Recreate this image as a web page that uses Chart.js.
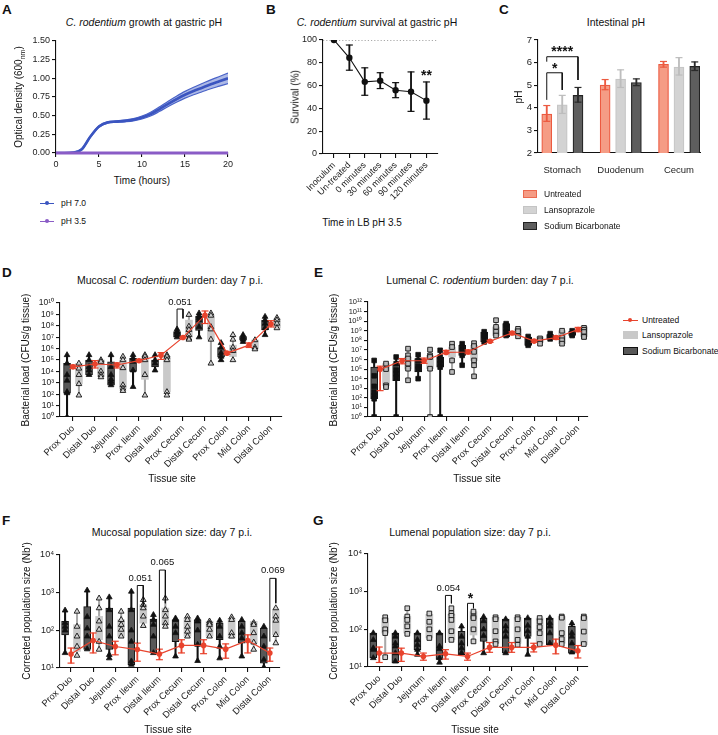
<!DOCTYPE html>
<html>
<head>
<meta charset="utf-8">
<title>C. rodentium at gastric pH</title>
<script src="https://cdn.jsdelivr.net/npm/chart.js@4.4.1/dist/chart.umd.min.js"></script>
<style>
  body { margin: 0; background: #fff; }
  #fig { position: relative; width: 718px; height: 735px; overflow: hidden; font-family: "Liberation Sans", Arial, sans-serif; color: #111; }
  #fig canvas { position: absolute; }
  .t, .yt, .tag, .leg { position: absolute; z-index: 2; white-space: nowrap; }
  .t { transform: translate(-50%, -50%); font-size: 10.5px; }
  .ax { font-size: 10px; }
  .yt { transform: translate(-50%, -50%) rotate(-90deg); font-size: 10px; }
  .tag { font-weight: bold; font-size: 13.5px; }
  .leg { font-size: 8.5px; display: flex; align-items: center; transform: translateY(-50%); }
  .sw { display: inline-block; width: 14px; height: 8px; margin-right: 7px; box-sizing: border-box; border: 1px solid; }
  .mk { position: relative; display: inline-block; width: 14px; height: 8px; margin-right: 7px; }
  .mk::before { content: ""; position: absolute; left: 0; right: 0; top: 3.5px; height: 1px; background: var(--c); }
  .mk::after { content: ""; position: absolute; left: 5px; top: 2px; width: 4px; height: 4px; border-radius: 2px; background: var(--c); }
  .e .sw, .e .mk { width: 15px; margin-right: 4px; }
  sub { font-size: 70%; }
</style>
</head>
<body>
<div id="fig">
  <div class="tag" style="left:2px;top:2px">A</div>
  <div class="tag" style="left:266px;top:2px">B</div>
  <div class="tag" style="left:499px;top:2px">C</div>
  <div class="tag" style="left:2px;top:265px">D</div>
  <div class="tag" style="left:314px;top:265px">E</div>
  <div class="tag" style="left:2px;top:513px">F</div>
  <div class="tag" style="left:313px;top:513px">G</div>

  <div class="t" style="left:144px;top:22px"><i>C. rodentium</i> growth at gastric pH</div>
  <div class="t" style="left:377px;top:22px"><i>C. rodentium</i> survival at gastric pH</div>
  <div class="t" style="left:616px;top:22px">Intestinal pH</div>
  <div class="t" style="left:170px;top:280px">Mucosal <i>C. rodentium</i> burden: day 7 p.i.</div>
  <div class="t" style="left:480px;top:280px">Lumenal <i>C. rodentium</i> burden: day 7 p.i.</div>
  <div class="t" style="left:172px;top:532px">Mucosal population size: day 7 p.i.</div>
  <div class="t" style="left:470px;top:532px">Lumenal population size: day 7 p.i.</div>

  <div class="yt" style="left:19px;top:97px">Optical density (600<sub>nm</sub>)</div>
  <div class="t ax" style="left:142px;top:180px">Time (hours)</div>
  <div class="yt" style="left:295px;top:97px">Survival (%)</div>
  <div class="t ax" style="left:362px;top:222px">Time in LB pH 3.5</div>
  <div class="yt" style="left:518px;top:97px">pH</div>
  <div class="yt" style="left:25px;top:360px">Bacterial load (CFUs/g tissue)</div>
  <div class="t ax" style="left:172px;top:478px">Tissue site</div>
  <div class="yt" style="left:333px;top:360px">Bacterial load (CFUs/g tissue)</div>
  <div class="t ax" style="left:477px;top:478px">Tissue site</div>
  <div class="yt" style="left:26px;top:611px">Corrected population size (Nb')</div>
  <div class="t ax" style="left:168px;top:729px">Tissue site</div>
  <div class="yt" style="left:333px;top:611px">Corrected population size (Nb')</div>
  <div class="t ax" style="left:475px;top:729px">Tissue site</div>

  <div class="leg" style="left:40px;top:203px"><span class="mk" style="--c:#3b55c0"></span>pH 7.0</div>
  <div class="leg" style="left:40px;top:221px"><span class="mk" style="--c:#8a5cc6"></span>pH 3.5</div>

  <div class="leg" style="left:523px;top:194px"><span class="sw" style="background:#f59c85;border-color:#ec6a50"></span>Untreated</div>
  <div class="leg" style="left:523px;top:210px"><span class="sw" style="background:#d3d3d3;border-color:#c4c4c4"></span>Lansoprazole</div>
  <div class="leg" style="left:523px;top:226px"><span class="sw" style="background:#5e5e5e;border-color:#222"></span>Sodium Bicarbonate</div>

  <div class="leg e" style="left:623px;top:320px"><span class="mk" style="--c:#e8432d"></span>Untreated</div>
  <div class="leg e" style="left:623px;top:335px"><span class="sw" style="background:#c9c9c9;border-color:#c9c9c9"></span>Lansoprazole</div>
  <div class="leg e" style="left:623px;top:351px"><span class="sw" style="background:#585858;border-color:#111"></span>Sodium Bicarbonate</div>
</div>

<script>
// ---------- A: growth curve (OD600) ----------
const aHours = [0, 1, 2, 3, 4, 5, 6, 7, 8, 9, 10, 11, 12, 13, 14, 15, 16, 17, 18, 19, 20];
const aPh7 = [0.0, 0.0, 0.005, 0.05, 0.22, 0.355, 0.41, 0.42, 0.43, 0.445, 0.475, 0.52, 0.585, 0.655, 0.72, 0.78, 0.83, 0.875, 0.92, 0.96, 1.0];
const aPh7Sd = [0.004, 0.004, 0.005, 0.008, 0.01, 0.01, 0.01, 0.01, 0.012, 0.015, 0.02, 0.025, 0.03, 0.035, 0.04, 0.045, 0.05, 0.055, 0.06, 0.065, 0.07];
const aPh35 = [0, 0, 0, 0, 0, 0, 0, 0, 0, 0, 0, 0, 0, 0, 0, 0, 0, 0, 0, 0, 0];

// ---------- B: survival ----------
const bLabels = ["Inoculum", "Un-treated", "0 minutes", "30 minutes", "60 minutes", "90 minutes", "120 minutes"];
const bSurvival = [100, 84.4, 63.3, 64.2, 55.9, 54.6, 46.8];
const bLow = [100, 73.5, 51.5, 57.4, 49.4, 37.4, 30.6];
const bHigh = [100, 95.6, 75.6, 71.3, 62.6, 72.0, 63.2];

// ---------- C: intestinal pH ----------
const cLabels = ["Stomach", "Duodenum", "Cecum"];
const cUntreated = [3.72, 5.0, 5.92];
const cUntreatedErr = [[3.4, 4.1], [4.8, 5.25], [5.8, 6.05]];
const cLanso = [4.13, 5.27, 5.8];
const cLansoErr = [[3.75, 4.55], [4.9, 5.68], [5.45, 6.22]];
const cSodium = [4.55, 5.12, 5.83];
const cSodiumErr = [[4.25, 4.9], [4.98, 5.28], [5.65, 6.03]];

// ---------- D-G: tissue sites (values are log10 readings) ----------
const SITES = ["Prox Duo", "Distal Duo", "Jejunum", "Prox Ileum", "Distal Ileum", "Prox Cecum", "Distal Cecum", "Prox Colon", "Mid Colon", "Distal Colon"];

const dSodBox = [[2.1, 4.7], [3.7, 5.0], [2.8, 4.85], [4.0, 5.15], [4.4, 5.0], [7.0, 7.5], [7.6, 8.85], [5.25, 6.1], [6.75, 7.05], [7.65, 8.5]];
const dSodPts = [[5.44, 4.7, 3.7, 3.2, 2.2, 2.1, 0], [5.44, 5.0, 4.4, 4.1, 3.7], [5.44, 4.4, 3.7, 3.3, 3.1, 2.8], [5.44, 5.15, 4.85, 4.1, 2.65], [5.44, 5.0, 4.7, 4.1], [7.7, 7.5, 7.4, 7.2, 7.0], [9.1, 8.85, 8.7, 8.5, 7.9, 7.0], [6.5, 6.1, 5.6, 5.3, 5.0], [7.2, 7.0, 6.8, 6.6], [8.8, 8.5, 8.2, 7.8, 7.2]];
const dLanBox = [[2.9, 4.7], [3.6, 5.0], [2.5, 5.0], [3.3, 5.2], [2.2, 5.3], [7.0, 8.5], [6.8, 8.9], [5.3, 6.3], [6.0, 6.75], [7.8, 8.6]];
const dLanPts = [[4.7, 4.26, 3.7, 2.9, 1.9], [5.0, 4.85, 4.0, 3.7, 3.5], [5.3, 5.0, 4.3, 2.8, 2.5, 2.3], [5.44, 5.3, 5.0, 3.7, 1.9], [5.44, 5.3, 5.0, 2.2, 1.9], [8.97, 7.94, 7.65, 7.2, 6.9, 6.8], [9.1, 8.9, 7.9, 7.7, 6.8, 4.7], [7.2, 6.8, 6.1, 5.8, 5.0], [6.75, 6.1, 5.95], [8.7, 8.5, 8.2, 7.8]];
const dRed = [4.4, 4.65, 4.56, 4.94, 5.42, 6.98, 8.93, 5.6, 6.3, 8.15];
const dRedErr = [[4.25, 4.55], [4.3, 4.95], [4.3, 4.75], [4.85, 5.05], [5.05, 5.65], [6.93, 7.03], [8.2, 9.3], [5.5, 5.7], [6.1, 6.5], [7.9, 8.45]];
const dBrackets = [{ from: 4.73, to: 5, top: 9.47, left: 7.75, right: 8.65, text: "0.051", textY: 10.08 }];

const eSodBox = [[1.9, 5.2], [3.8, 5.57], [4.7, 6.1], [5.2, 6.26], [6.43, 7.48], [7.83, 8.87], [8.35, 9.74], [7.48, 8.35], [8.1, 8.6], [8.5, 8.97]];
const eSodPts = [[5.9, 4.3, 3.2, 2.6, 2.2, 1.9, 0], [6.26, 5.57, 4.9, 4.5, 4.1, 0], [6.5, 5.9, 5.3, 5.0, 4.0], [6.96, 6.26, 5.9, 5.6, 5.2, 0], [7.65, 7.3, 6.96, 6.43, 5.4], [8.9, 8.5, 8.35, 7.83], [9.74, 9.56, 9.2, 8.87, 8.5], [8.4, 8.0, 7.65, 7.48], [8.7, 8.4, 8.15], [9.0, 8.6, 8.5]];
const eLanBox = [[3.3, 5.57], [5.0, 6.26], [5.04, 6.43], [6.26, 7.3], [5.9, 7.48], [8.5, 9.4], [8.5, 9.2], [7.8, 8.35], [7.65, 9.0], [8.4, 9.4]];
const eLanPts = [[5.57, 5.0, 3.3, 3.13], [7.13, 6.43, 6.1, 5.57, 5.04, 3.83], [7.03, 6.43, 6.26, 5.04, 0], [7.65, 7.3, 5.9, 4.7], [7.7, 7.4, 6.8, 5.9, 5.4, 4.24], [10.1, 9.4, 8.9, 8.5], [9.2, 8.95, 8.42], [8.2, 8.0, 7.65], [9.0, 8.28, 8.0, 7.65], [9.3, 9.1, 8.87, 8.4, 8.35]];
const eRed = [4.97, 5.87, 5.87, 6.74, 6.78, 7.9, 8.77, 7.92, 8.29, 9.13];
const eRedErr = [[2.75, 5.3], [5.55, 6.1], [5.6, 6.15], [6.6, 6.95], [6.6, 7.0], [7.8, 8.0], [8.6, 8.9], [7.8, 8.05], [8.1, 8.45], [8.9, 9.35]];

const fSodBox = [[1.88, 2.24], [1.49, 2.63], [1.49, 2.59], [1.09, 2.59], [1.4, 2.3], [1.7, 2.28], [1.62, 2.28], [1.75, 2.19], [1.66, 2.24], [1.13, 2.06]];
const fSodPts = [[2.53, 2.2, 2.1, 2.0, 1.4], [3.06, 2.36, 2.05, 1.84, 1.5], [2.88, 2.54, 2.1, 1.84, 1.35, 1.26], [3.03, 2.54, 2.0, 1.7, 1.18, 1.09], [2.41, 2.28, 2.15, 1.84, 1.4], [2.32, 2.28, 2.1, 1.93, 1.31], [2.32, 2.24, 2.0, 1.62, 1.19], [2.26, 2.1, 1.84, 1.57, 1.26], [2.28, 2.1, 1.93, 1.79, 1.31], [2.1, 1.84, 1.57, 1.22, 1.02]];
const fLanBox = [[1.44, 2.15], [1.75, 2.37], [1.84, 2.28], [2.19, 2.68], [2.15, 2.59], [1.84, 2.32], [1.84, 2.24], [1.79, 2.32], [1.66, 2.24], [1.88, 2.54]];
const fLanPts = [[2.5, 2.1, 1.84, 1.57, 1.33], [2.85, 2.59, 2.24, 2.02, 1.7, 1.49], [2.5, 2.28, 2.15, 2.02, 1.84], [2.81, 2.68, 2.59, 2.37, 2.12], [2.85, 2.54, 2.37, 2.19, 2.1], [2.37, 2.28, 2.1, 1.97, 1.84], [2.24, 2.19, 2.15, 2.02, 1.84], [2.35, 2.28, 1.93, 1.84], [2.2, 2.15, 1.93, 1.68, 1.49], [2.59, 2.37, 2.26, 1.88, 1.66]];
const fRed = [1.37, 1.73, 1.57, 1.49, 1.37, 1.6, 1.6, 1.5, 1.73, 1.4];
const fRedErr = [[1.13, 1.53], [1.4, 1.93], [1.35, 1.71], [1.18, 1.66], [1.22, 1.5], [1.4, 1.75], [1.38, 1.75], [1.26, 1.64], [1.4, 1.88], [1.18, 1.53]];
const fBrackets = [
  { from: 3, to: 3.27, top: 3.19, left: 1.66, right: 2.63, text: "0.051", textY: 3.38 },
  { from: 4, to: 4.27, top: 3.6, left: 1.4, right: 2.72, text: "0.065", textY: 3.8 },
  { from: 9, to: 9.27, top: 3.38, left: 1.7, right: 2.72, text: "0.069", textY: 3.58 },
];

const gSodBox = [[1.24, 1.9], [1.11, 1.9], [1.46, 1.9], [1.2, 1.9], [1.33, 1.95], [1.68, 2.3], [1.37, 2.27], [1.81, 2.3], [1.59, 2.3], [1.37, 2.08]];
const gSodPts = [[1.9, 1.72, 1.5, 1.46, 1.24], [1.9, 1.81, 1.63, 1.55, 1.37, 1.15], [1.9, 1.72, 1.59, 1.46, 1.33], [1.9, 1.55, 1.48, 1.24, 1.12], [2.08, 1.81, 1.63, 1.5, 1.37], [2.33, 2.22, 2.0, 1.83, 1.37], [2.27, 2.08, 1.95, 1.81, 1.37], [2.3, 2.1, 1.95, 1.81, 1.33], [2.3, 2.17, 2.08, 1.9, 1.63], [2.16, 1.9, 1.81, 1.63, 1.39]];
const gLanBox = [[1.9, 2.3], [1.9, 2.35], [1.77, 2.4], [1.72, 2.4], [1.85, 2.47], [1.63, 2.32], [1.63, 2.32], [1.61, 2.3], [1.63, 2.34], [1.59, 2.34]];
const gLanPts = [[2.32, 2.24, 2.0, 1.9, 1.26], [2.56, 2.34, 2.25, 2.08, 1.88], [2.42, 2.2, 2.0, 1.77], [2.56, 2.43, 2.36, 2.25, 1.95, 1.72], [2.47, 2.34, 2.3, 2.0, 1.68], [2.32, 2.27, 1.95, 1.68, 1.61], [2.32, 2.27, 2.0, 1.72, 1.59], [2.3, 2.21, 2.06, 1.9, 1.61], [2.34, 2.31, 1.9, 1.74, 1.61], [2.34, 2.3, 1.94, 1.61]];
const gRed = [1.37, 1.37, 1.28, 1.35, 1.28, 1.52, 1.52, 1.52, 1.58, 1.43];
const gRedErr = [[1.12, 1.53], [1.15, 1.5], [1.18, 1.37], [1.21, 1.46], [1.18, 1.37], [1.39, 1.65], [1.39, 1.65], [1.4, 1.63], [1.35, 1.74], [1.24, 1.57]];
const gBrackets = [
  { from: 3, to: 3.27, top: 2.9, left: 1.64, right: 2.69, text: "0.054", textY: 3.1 },
  { from: 4, to: 4.27, top: 2.69, left: 1.55, right: 2.56, text: "*", textY: 2.79, bold: true },
];

const RED = "#e8432d";
const BLUE = "#3b55c0";
const PURPLE = "#8a5cc6";
const SOD_DX = -0.27;
const LAN_DX = 0.27;
const SUP = "⁰¹²³⁴⁵⁶⁷⁸⁹";

Chart.defaults.font.family = '"Liberation Sans", Arial, sans-serif';
Chart.defaults.font.size = 9;
Chart.defaults.color = "#222";

const pow10Label = (v) => "10" + String(Math.round(Math.log10(v))).split("").map((d) => SUP[d]).join("");

function axis(opts) {
  return {
    offset: false,
    border: { display: true, color: "#111", width: 1.1 },
    grid: { offset: false, drawOnChartArea: false, drawTicks: true, tickLength: 4, color: "#111", lineWidth: 1.1 },
    ...opts,
    ticks: { color: "#222", font: { size: 9 }, padding: 2, autoSkip: false, ...(opts.ticks || {}) },
  };
}

// text labels placed in data units (p values, asterisks)
function notes(items) {
  return {
    id: "notes",
    afterDatasetsDraw(chart) {
      const { ctx, scales } = chart;
      items.forEach((n) => {
        ctx.save();
        ctx.font = (n.bold ? "bold 14px " : "9.5px ") + '"Liberation Sans", Arial, sans-serif';
        ctx.fillStyle = "#111";
        ctx.textAlign = "center";
        ctx.textBaseline = "middle";
        ctx.fillText(n.text, scales.x.getPixelForValue(n.x), scales.y.getPixelForValue(n.y));
        ctx.restore();
      });
    },
  };
}

function bracketSets(list, conv) {
  return list.map((b) => ({
    type: "line",
    data: [
      { x: b.from, y: conv(b.left) },
      { x: b.from, y: conv(b.top) },
      { x: b.to, y: conv(b.top) },
      { x: b.to, y: conv(b.right) },
    ],
    borderColor: "#111",
    borderWidth: 1,
    pointRadius: 0,
    tension: 0,
    order: 0,
  }));
}

function errorSets(xs, errs, color, conv, order) {
  return [
    {
      type: "scatter",
      data: errs.flatMap(([lo, hi], i) => [{ x: xs[i], y: conv(lo) }, { x: xs[i], y: conv(hi) }]),
      pointStyle: "line",
      pointRadius: 3.5,
      borderColor: color,
      borderWidth: 1.2,
      order,
    },
    {
      type: "bar",
      data: errs.map(([lo, hi], i) => ({ x: xs[i], y: [conv(lo), conv(hi)] })),
      backgroundColor: color,
      barThickness: 1.2,
      stack: "all",
      order,
    },
  ];
}

function makeChart(plot, yW, xH, config, plugins = []) {
  const padT = 10, padR = 14;
  const canvas = document.createElement("canvas");
  const w = plot.r - plot.l + yW + padR;
  const h = plot.b - plot.t + padT + xH;
  canvas.width = w;
  canvas.height = h;
  canvas.style.left = plot.l - yW + "px";
  canvas.style.top = plot.t - padT + "px";
  canvas.style.width = w + "px";
  canvas.style.height = h + "px";
  document.getElementById("fig").appendChild(canvas);
  const o = config.options;
  o.responsive = false;
  o.animation = false;
  o.events = [];
  o.layout = { padding: { top: padT, right: padR, left: 0, bottom: 0 } };
  o.scales.x.afterFit = (s) => { s.height = xH; };
  o.scales.y.afterFit = (s) => { s.width = yW; };
  o.plugins = { legend: { display: false }, tooltip: { enabled: false } };
  return new Chart(canvas, { ...config, plugins });
}

// ---------- A ----------
makeChart({ l: 56, t: 41, r: 228, b: 153 }, 40, 20, {
  type: "scatter",
  data: {
    datasets: [
      { type: "line", data: aHours.map((t, i) => ({ x: t, y: aPh35[i] })), borderColor: PURPLE, borderWidth: 3, pointRadius: 0, clip: false, order: 0 },
      { type: "line", data: aHours.map((t, i) => ({ x: t, y: aPh7[i] })), borderColor: BLUE, borderWidth: 2.6, pointRadius: 0, cubicInterpolationMode: "monotone", order: 1 },
      { type: "line", data: aHours.map((t, i) => ({ x: t, y: aPh7[i] + aPh7Sd[i] })), borderColor: "#4a63c8", borderWidth: 1.2, pointRadius: 0, cubicInterpolationMode: "monotone", fill: "+1", backgroundColor: "rgba(74,99,200,0.45)", order: 2 },
      { type: "line", data: aHours.map((t, i) => ({ x: t, y: aPh7[i] - aPh7Sd[i] })), borderColor: "#4a63c8", borderWidth: 1.2, pointRadius: 0, cubicInterpolationMode: "monotone", order: 3 },
    ],
  },
  options: {
    scales: {
      x: axis({ type: "linear", min: 0, max: 20, ticks: { stepSize: 5 } }),
      y: axis({ type: "linear", min: 0, max: 1.5, stacked: false, ticks: { stepSize: 0.25, callback: (v) => v.toFixed(2) } }),
    },
  },
});

// ---------- B ----------
const bIdx = bLabels.map((_, i) => i);
makeChart({ l: 323, t: 40, r: 438, b: 154 }, 40, 62, {
  type: "scatter",
  data: {
    datasets: [
      { type: "line", data: bSurvival.map((v, i) => ({ x: i, y: v })), borderColor: "#111", borderWidth: 1.1, pointRadius: 3.2, pointBackgroundColor: "#111", pointBorderWidth: 0, tension: 0, order: 0 },
      ...errorSets(bIdx.slice(1), bLow.slice(1).map((lo, i) => [lo, bHigh[i + 1]]), "#111", (v) => v, 1),
      { type: "line", data: [{ x: -0.71, y: 100 }, { x: 6.75, y: 100 }], borderColor: "#555", borderWidth: 1, borderDash: [1.2, 2], pointRadius: 0, order: 5 },
    ],
  },
  options: {
    scales: {
      x: axis({ type: "linear", min: -0.71, max: 6.75, afterBuildTicks: (s) => { s.ticks = bIdx.map((v) => ({ value: v })); }, ticks: { minRotation: 45, maxRotation: 45, callback: (v) => bLabels[v] } }),
      y: axis({ type: "linear", min: 0, max: 100, stacked: false, ticks: { stepSize: 20 } }),
    },
  },
}, [notes([{ x: 6, y: 68.7, text: "**", bold: true }])]);

// ---------- C ----------
const cX = (dx) => cLabels.map((_, i) => i + dx);
const cBrackets = [
  { from: -0.265, to: 0, top: 5.55, left: 4.35, right: 4.79 },
  { from: -0.265, to: 0.27, top: 6.26, left: 6.04, right: 5.23 },
];
makeChart({ l: 538, t: 40, r: 700, b: 153 }, 40, 20, {
  type: "scatter",
  data: {
    datasets: [
      ...bracketSets(cBrackets, (v) => v),
      ...errorSets(cX(-0.265), cUntreatedErr, "#ec5a40", (v) => v, 1),
      ...errorSets(cX(0), cLansoErr, "#bdbdbd", (v) => v, 1),
      ...errorSets(cX(0.27), cSodiumErr, "#2a2a2a", (v) => v, 1),
      { type: "bar", data: cUntreated.map((v, i) => ({ x: i - 0.265, y: v })), backgroundColor: "#f59c85", borderColor: "#ec5a40", borderWidth: 1.2, barThickness: 10, stack: "all", order: 3 },
      { type: "bar", data: cLanso.map((v, i) => ({ x: i, y: v })), backgroundColor: "#d3d3d3", borderColor: "#c6c6c6", borderWidth: 1.2, barThickness: 10, stack: "all", order: 3 },
      { type: "bar", data: cSodium.map((v, i) => ({ x: i + 0.27, y: v })), backgroundColor: "#5e5e5e", borderColor: "#222", borderWidth: 1.2, barThickness: 10, stack: "all", order: 3 },
    ],
  },
  options: {
    scales: {
      x: axis({ type: "linear", min: -0.415, max: 2.36, grid: { display: false }, afterBuildTicks: (s) => { s.ticks = cLabels.map((_, i) => ({ value: i })); }, ticks: { padding: 4, font: { size: 9.5 }, callback: (v) => cLabels[v] } }),
      y: axis({ type: "linear", min: 2, max: 7, stacked: false, ticks: { stepSize: 1, font: { size: 9.5 } } }),
    },
  },
}, [notes([
  { x: -0.13, y: 5.69, text: "*", bold: true },
  { x: 0.0, y: 6.46, text: "****", bold: true },
])]);

// ---------- D-G ----------
function sitePanel(plot, p) {
  const P = (e) => 10 ** e;
  const idx = SITES.map((_, i) => i);
  const pts = (arr, dx) => arr.flatMap((vals, i) => vals.map((e) => ({ x: i + dx, y: P(e) })));
  const datasets = [
    { type: "line", data: p.red.map((e, i) => ({ x: i, y: P(e) })), borderColor: RED, borderWidth: 1.2, pointRadius: 2.8, pointBackgroundColor: RED, pointBorderWidth: 0, tension: 0, order: 0 },
    ...bracketSets(p.brackets, P),
    ...errorSets(idx, p.redErr, RED, P, 1),
    { type: "scatter", data: pts(p.sodPts, SOD_DX), pointStyle: p.sodShape, pointRadius: 3.3, backgroundColor: "#111", borderColor: "#111", borderWidth: 0.8, order: 2 },
    { type: "scatter", data: pts(p.lanPts, LAN_DX), pointStyle: p.lanShape, pointRadius: 3.3, backgroundColor: p.lanFill, borderColor: "#111", borderWidth: 0.9, order: 2 },
    { type: "bar", data: p.sodBox.map(([lo, hi], i) => ({ x: i + SOD_DX, y: [P(lo), P(hi)] })), backgroundColor: "#585858", borderColor: "#111", borderWidth: 1, borderSkipped: false, barThickness: 7, stack: "all", order: 3 },
    { type: "bar", data: p.lanBox.map(([lo, hi], i) => ({ x: i + LAN_DX, y: [P(lo), P(hi)] })), backgroundColor: "#c9c9c9", barThickness: 7, stack: "all", order: 3 },
    { type: "bar", data: p.sodPts.map((v, i) => ({ x: i + SOD_DX, y: [P(Math.min(...v)), P(Math.max(...v))] })), backgroundColor: "#111", barThickness: 1.4, stack: "all", order: 4 },
    { type: "bar", data: p.lanPts.map((v, i) => ({ x: i + LAN_DX, y: [P(Math.min(...v)), P(Math.max(...v))] })), backgroundColor: "#a9a9a9", barThickness: 1.4, stack: "all", order: 4 },
  ];
  const decades = [];
  for (let e = p.yMin; e <= p.yMax; e++) decades.push(e);
  makeChart(plot, 40, 72, {
    type: "scatter",
    data: { datasets },
    options: {
      scales: {
        x: axis({ type: "linear", min: p.xMin, max: p.xMax, afterBuildTicks: (s) => { s.ticks = idx.map((v) => ({ value: v })); }, ticks: { minRotation: 45, maxRotation: 45, font: { size: 9.3 }, callback: (v) => SITES[v] } }),
        y: axis({ type: "logarithmic", min: P(p.yMin), max: P(p.yMax), stacked: false, afterBuildTicks: (s) => { s.ticks = decades.map((e) => ({ value: P(e) })); }, ticks: { font: { size: p.yFont }, padding: 2, callback: (v) => pow10Label(v) } }),
      },
    },
  }, [notes(p.brackets.map((b) => ({ x: (b.from + b.to) / 2, y: P(b.textY), text: b.text, bold: b.bold })))]);
}

sitePanel({ l: 60, t: 303, r: 282, b: 417 }, {
  sodBox: dSodBox, sodPts: dSodPts, lanBox: dLanBox, lanPts: dLanPts, red: dRed, redErr: dRedErr, brackets: dBrackets,
  sodShape: "triangle", lanShape: "triangle", lanFill: "#cfcfcf", yMin: 0, yMax: 10, xMin: -0.59, xMax: 9.5, yFont: 8.5,
});
sitePanel({ l: 368, t: 302, r: 588, b: 417 }, {
  sodBox: eSodBox, sodPts: eSodPts, lanBox: eLanBox, lanPts: eLanPts, red: eRed, redErr: eRedErr, brackets: [],
  sodShape: "rect", lanShape: "rect", lanFill: "#b9b9b9", yMin: 0, yMax: 12, xMin: -0.55, xMax: 9.45, yFont: 7.5,
});
sitePanel({ l: 60, t: 555, r: 280, b: 668 }, {
  sodBox: fSodBox, sodPts: fSodPts, lanBox: fLanBox, lanPts: fLanPts, red: fRed, redErr: fRedErr, brackets: fBrackets,
  sodShape: "triangle", lanShape: "triangle", lanFill: "#d6d6d6", yMin: 1, yMax: 4, xMin: -0.5, xMax: 9.46, yFont: 9,
});
sitePanel({ l: 368, t: 554, r: 588, b: 667 }, {
  sodBox: gSodBox, sodPts: gSodPts, lanBox: gLanBox, lanPts: gLanPts, red: gRed, redErr: gRedErr, brackets: gBrackets,
  sodShape: "triangle", lanShape: "rect", lanFill: "#d0d0d0", yMin: 1, yMax: 4, xMin: -0.51, xMax: 9.46, yFont: 9,
});
</script>
</body>
</html>
